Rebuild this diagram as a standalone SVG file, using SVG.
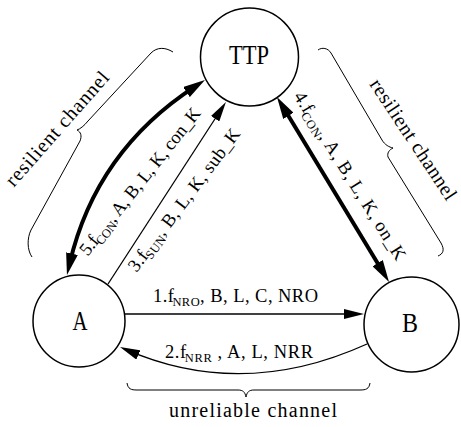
<svg xmlns="http://www.w3.org/2000/svg" width="461" height="427" viewBox="0 0 461 427">
<style>
.node{fill:#fff;stroke:#000;stroke-width:1.5}
.nl{font-family:"Liberation Serif","Times New Roman",serif;font-size:27px;fill:#000}
.lbl{font-family:"Liberation Serif","Times New Roman",serif;font-size:18.5px;fill:#000}
.sub{font-size:12.5px}
.thin{fill:none;stroke:#000;stroke-width:1.3}
.thick{fill:none;stroke:#000;stroke-width:4}
.brace{fill:none;stroke:#000;stroke-width:1}
.ch{font-family:"Liberation Serif","Times New Roman",serif;font-size:20px;fill:#000}
</style>
<defs>
<marker id="ah" markerUnits="userSpaceOnUse" markerWidth="20" markerHeight="10" refX="14" refY="5" orient="auto-start-reverse">
<path d="M0,0 L20,5 L0,10 z" fill="#000"/>
</marker>
<marker id="ahT" markerUnits="userSpaceOnUse" markerWidth="22" markerHeight="12" refX="10" refY="6" orient="auto-start-reverse">
<path d="M0,0 L22,6 L0,12 z" fill="#000"/>
</marker>
</defs>
<g id="connectors">
<path id="e1" class="thin" d="M125,314 L358,314" marker-end="url(#ah)"/>
<path id="e2" class="thin" d="M367,344 Q242.5,400.5 125.5,349.4" marker-end="url(#ah)"/>
<path id="e3" class="thin" d="M108,284 L222.7,107" marker-end="url(#ah)"/>
<path id="e4" class="thick" d="M283.2,107.3 L382.8,271.7" marker-start="url(#ahT)" marker-end="url(#ahT)"/>
<path id="e5" class="thick" d="M69.7,263.3 Q96,151 194.9,86.6" marker-start="url(#ahT)" marker-end="url(#ahT)"/>
<text class="lbl" x="153" y="302" textLength="165">1.f<tspan class="sub" dx="-2" dy="4">NRO</tspan><tspan dy="-4">, B, L, C, NRO</tspan></text>
<text class="lbl" x="165" y="358" textLength="148">2.f<tspan class="sub" dx="-2" dy="4">NRR</tspan><tspan dy="-4"> , A, L, NRR</tspan></text>
<text class="lbl" text-anchor="middle" textLength="174" transform="translate(188.8,203.6) rotate(-53)">3.f<tspan class="sub" dx="-2" dy="4">SUN</tspan><tspan dy="-4">, B, L, K, sub_K</tspan></text>
<text class="lbl" text-anchor="middle" textLength="195" transform="translate(345,179) rotate(58)">4.f<tspan class="sub" dx="-2" dy="4">CON</tspan><tspan dy="-4">, A, B, L, K, on_K</tspan></text>
<text class="lbl" text-anchor="middle" textLength="183" transform="translate(144.7,185.2) rotate(-51.5)">5.f<tspan class="sub" dx="-2" dy="4">CON</tspan><tspan dy="-4">, A, B, L, K, con_K</tspan></text>
</g>
<g id="brace-left">
<path class="brace" d="M173,52 C165,47 157,47 151,53 L88,121 C84,126 80,129 77,130 C81,132 82,136 80,141 L31,230 C27,238 27,250 32,257"/>
<text class="ch" text-anchor="middle" textLength="146" transform="translate(62,133) rotate(-48.6)">resilient channel</text>
</g>
<g id="brace-right">
<path class="brace" d="M318,50 C322,47 328,48 331,53 L382,140 C385,145 389,147 393,148 C389,150 387,153 388,157 L441,243 C445,250 443,254 438,256"/>
<text class="ch" text-anchor="middle" textLength="141" transform="translate(408,143) rotate(56.5)">resilient channel</text>
</g>
<g id="brace-bottom">
<path class="brace" d="M127,383 C128,389 131,390 137,390 L238,390 C243,390 245,392 246,397 C247,392 249,390 254,390 L360,390 C366,390 369,389 370,383"/>
<text class="ch" x="253" y="417" text-anchor="middle" textLength="168">unreliable channel</text>
</g>
<g id="TTP">
<circle class="node" cx="249.5" cy="57" r="49"/>
<text class="nl" x="229" y="64" textLength="40" lengthAdjust="spacingAndGlyphs">TTP</text>
</g>
<g id="A">
<circle class="node" cx="79" cy="321" r="46"/>
<text class="nl" x="72.5" y="330" textLength="15" lengthAdjust="spacingAndGlyphs">A</text>
</g>
<g id="B">
<circle class="node" cx="411.5" cy="324.5" r="47.5"/>
<text class="nl" x="402" y="332" textLength="16" lengthAdjust="spacingAndGlyphs">B</text>
</g>
</svg>
